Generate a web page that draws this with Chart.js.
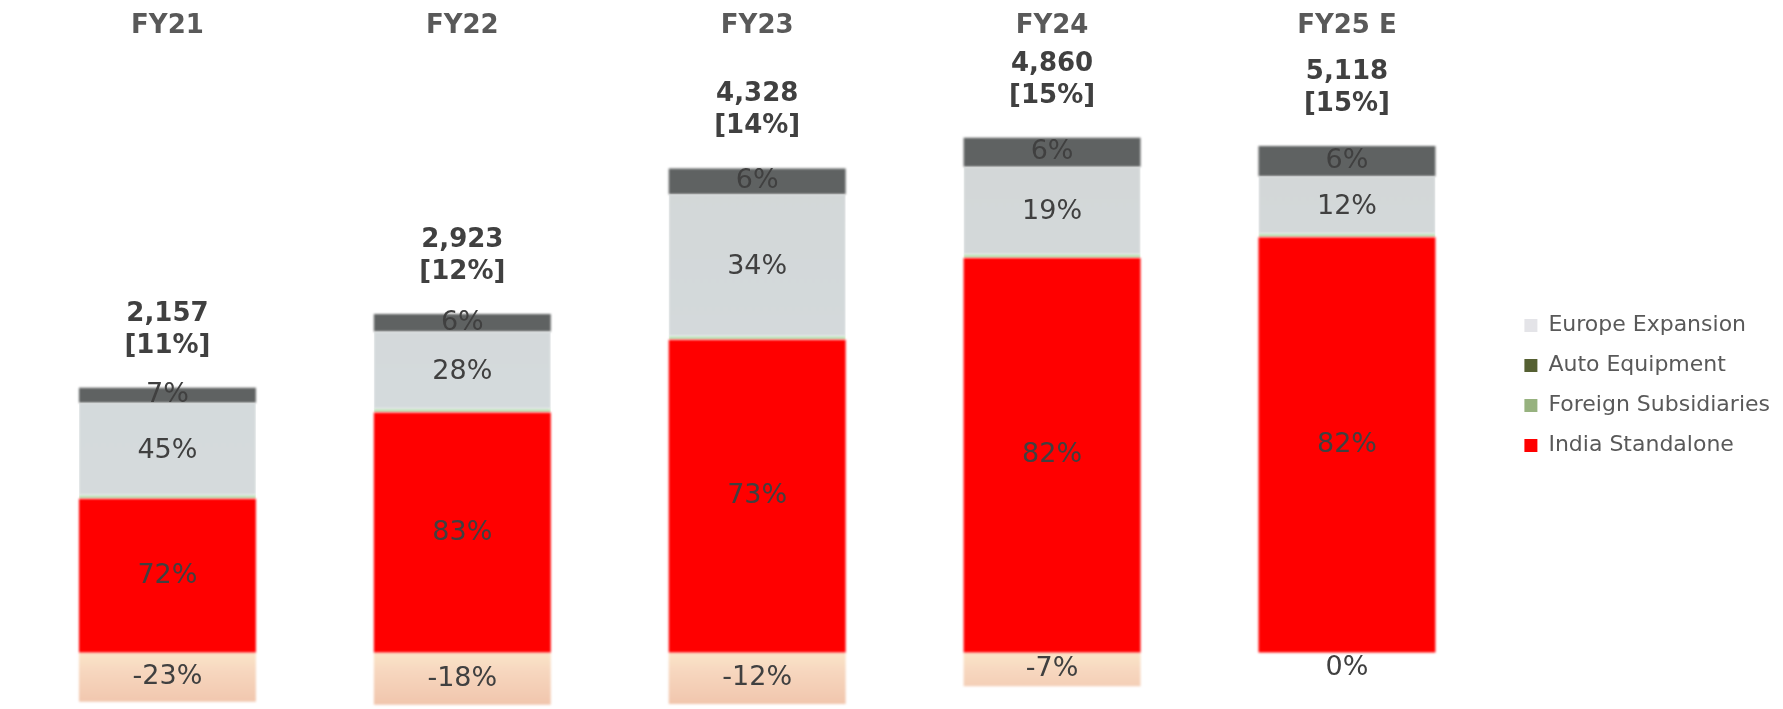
<!DOCTYPE html>
<html>
<head>
<meta charset="utf-8">
<script src="https://cdn.jsdelivr.net/npm/chart.js@4/dist/chart.umd.min.js"></script>
<style>
  html, body { margin: 0; padding: 0; background: #ffffff; }
  #wrap { width: 1783px; height: 709px; position: relative; }
</style>
</head>
<body>
<div id="wrap"><canvas id="chart" width="1783" height="709"></canvas></div>
<script>
// Fiscal years and consolidated totals (with margin in brackets)
const years = ['FY21', 'FY22', 'FY23', 'FY24', 'FY25 E'];
const totals = [2157, 2923, 4328, 4860, 5118];
const margins = [11, 12, 14, 15, 15];

// Share of the total contributed by each business, in percent
const indiaShare = [72, 83, 73, 82, 82];
const foreignShare = [45, 28, 34, 19, 12];
const autoShare = [7, 6, 6, 6, 6];
const europeShare = [-23, -18, -12, -7, 0];

const FONT = 'DejaVu Sans, Verdana, sans-serif';
const TEXT_DARK = '#404040';
const TEXT_GREY = '#595959';

// Absolute contribution of a segment = share x total
const toValues = shares => shares.map((s, i) => s * totals[i] / 100);

// Vertical fade used for the loss-making Europe segment
function europeFill(ctx) {
  const chart = ctx.chart;
  if (!chart.chartArea) return '#f4cfb5';
  const y = chart.scales.y;
  const g = chart.ctx.createLinearGradient(0, y.getPixelForValue(0), 0, y.getPixelForValue(-520));
  g.addColorStop(0, '#fbe6c9');
  g.addColorStop(0.35, '#f7d7bf');
  g.addColorStop(1, '#f1c6ad');
  return g;
}

// Light grey body of the Foreign Subsidiaries segment
function foreignFill(ctx) {
  const chart = ctx.chart;
  const area = chart.chartArea;
  if (!area) return '#d5d9db';
  const g = chart.ctx.createLinearGradient(0, area.top, 0, area.bottom);
  g.addColorStop(0, '#d3d6d6');
  g.addColorStop(0.5, '#d4dadc');
  g.addColorStop(1, '#d8dcdc');
  return g;
}

const legendColors = {
  'Europe Expansion': '#e4e4e8',
  'Auto Equipment': '#556032',
  'Foreign Subsidiaries': '#97b27f',
  'India Standalone': '#ff0000'
};

const datasets = [
  {
    label: 'India Standalone',
    data: toValues(indiaShare),
    shares: indiaShare,
    backgroundColor: '#ff0000'
  },
  {
    label: 'Foreign Subsidiaries',
    data: toValues(foreignShare),
    shares: foreignShare,
    backgroundColor: foreignFill,
    borderColor: '#bfe4ba',
    borderWidth: { top: 0, left: 0, right: 0, bottom: 4 },
    borderSkipped: false
  },
  {
    label: 'Auto Equipment',
    data: toValues(autoShare),
    shares: autoShare,
    backgroundColor: '#5f6262'
  },
  {
    label: 'Europe Expansion',
    data: toValues(europeShare),
    shares: europeShare,
    backgroundColor: europeFill
  }
];

// Soft edges on the columns only
const softBars = {
  id: 'softBars',
  beforeDatasetsDraw(chart) {
    chart.ctx.save();
    chart.ctx.filter = 'blur(1.2px)';
  },
  afterDatasetsDraw(chart) {
    chart.ctx.restore();
  }
};

// Percentage labels centred in each segment; an empty segment is labelled just below the baseline
const segmentLabels = {
  id: 'segmentLabels',
  afterDatasetsDraw(chart) {
    const ctx = chart.ctx;
    const zero = chart.scales.y.getPixelForValue(0);
    ctx.save();
    ctx.filter = 'none';
    ctx.font = '27px ' + FONT;
    ctx.fillStyle = TEXT_DARK;
    ctx.textAlign = 'center';
    ctx.textBaseline = 'middle';
    chart.data.datasets.forEach((ds, di) => {
      const meta = chart.getDatasetMeta(di);
      meta.data.forEach((bar, i) => {
        const share = ds.shares[i];
        const { x, y, base } = bar.getProps(['x', 'y', 'base'], true);
        const cy = share === 0 ? zero + 15 : (y + base) / 2;
        ctx.fillText(share + '%', x, cy);
      });
    });
    ctx.restore();
  }
};

// Total and margin above each stacked column
const totalLabels = {
  id: 'totalLabels',
  afterDatasetsDraw(chart) {
    const ctx = chart.ctx;
    ctx.save();
    ctx.filter = 'none';
    ctx.font = 'bold 26px ' + FONT;
    ctx.fillStyle = TEXT_DARK;
    ctx.textAlign = 'center';
    ctx.textBaseline = 'middle';
    years.forEach((_, i) => {
      let top = Infinity, x = 0;
      chart.data.datasets.forEach((ds, di) => {
        const bar = chart.getDatasetMeta(di).data[i];
        const p = bar.getProps(['x', 'y', 'base'], true);
        x = p.x;
        top = Math.min(top, p.y, p.base);
      });
      ctx.fillText(totals[i].toLocaleString('en-US'), x, top - 74);
      ctx.fillText('[' + margins[i] + '%]', x, top - 42);
    });
    ctx.restore();
  }
};

new Chart(document.getElementById('chart'), {
  type: 'bar',
  data: { labels: years, datasets },
  options: {
    responsive: false,
    devicePixelRatio: 1,
    animation: false,
    layout: { padding: { top: 8, right: 3, bottom: 0, left: 20 } },
    datasets: {
      bar: { barPercentage: 0.6, categoryPercentage: 1.0 }
    },
    scales: {
      x: {
        stacked: true,
        position: 'top',
        grid: { display: false },
        border: { display: false },
        ticks: {
          color: TEXT_GREY,
          font: { family: FONT, size: 26, weight: 'bold' },
          padding: 3
        }
      },
      y: {
        stacked: true,
        position: 'right',
        min: -570,
        max: 6055,
        grid: { display: false },
        border: { display: false },
        ticks: { display: false },
        afterFit(scale) { scale.width = 12; }
      }
    },
    plugins: {
      tooltip: { enabled: false },
      legend: {
        position: 'right',
        reverse: true,
        title: { display: true, text: '', font: { size: 10 }, padding: { top: 0, bottom: 42 } },
        labels: {
          boxWidth: 13,
          boxHeight: 13,
          padding: 18,
          color: TEXT_GREY,
          font: { family: FONT, size: 22 },
          generateLabels(chart) {
            return chart.data.datasets.map((ds, i) => ({
              text: ds.label,
              fillStyle: legendColors[ds.label],
              strokeStyle: legendColors[ds.label],
              lineWidth: 0,
              hidden: false,
              datasetIndex: i,
              fontColor: TEXT_GREY
            }));
          }
        }
      }
    }
  },
  plugins: [softBars, segmentLabels, totalLabels]
});
</script>
</body>
</html>
